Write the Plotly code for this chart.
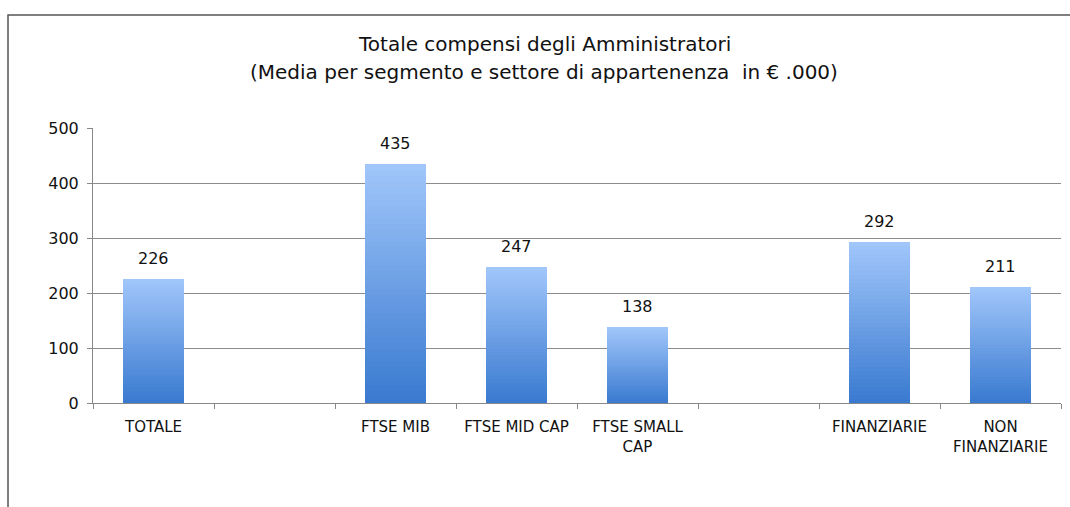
import plotly.graph_objects as go

categories = ["TOTALE", " ", "FTSE MIB", "FTSE MID CAP", "FTSE SMALL CAP", "  ", "FINANZIARIE", "NON FINANZIARIE"]
tick_labels = ["TOTALE", "", "FTSE MIB", "FTSE MID CAP", "FTSE SMALL<br>CAP", "", "FINANZIARIE", "NON<br>FINANZIARIE"]
values = [226, None, 435, 247, 138, None, 292, 211]

title_line1 = "Totale compensi degli Amministratori"
title_line2 = "(Media per segmento e settore di appartenenza  in € .000)"

FONT = "DejaVu Sans, Liberation Sans, Arial, sans-serif"

top_rgb = (160, 198, 250)
bot_rgb = (58, 122, 208)
N = 40

fig = go.Figure()
for i in range(N):
    t = i / (N - 1)  # 0 bottom, 1 top
    c = tuple(round(b + (tp - b) * t) for b, tp in zip(bot_rgb, top_rgb))
    seg = [v / N if v is not None else None for v in values]
    fig.add_trace(go.Bar(
        x=categories, y=seg,
        marker=dict(color="rgb(%d,%d,%d)" % c, line=dict(width=0)),
        hoverinfo="skip", showlegend=False,
    ))

for cat, v in zip(categories, values):
    if v is None:
        continue
    fig.add_annotation(x=cat, y=v, text=str(v), showarrow=False,
                       yanchor="bottom", yshift=9,
                       font=dict(family=FONT, size=16, color="#111"))

fig.add_annotation(xref="paper", yref="paper", x=0.466, y=1.305, text=title_line1,
                   showarrow=False, xanchor="center", yanchor="middle",
                   font=dict(family=FONT, size=20, color="#111"))
fig.add_annotation(xref="paper", yref="paper", x=0.466, y=1.204, text=title_line2,
                   showarrow=False, xanchor="center", yanchor="middle",
                   font=dict(family=FONT, size=20, color="#111"))

fig.add_shape(type="rect", xref="paper", yref="paper",
              x0=-0.0878, x1=1.03, y0=-0.45, y1=1.411,
              line=dict(color="#555", width=1.5), fillcolor="rgba(0,0,0,0)", layer="below")

fig.update_layout(
    width=1070, height=507,
    barmode="stack", bargap=0.5,
    paper_bgcolor="white", plot_bgcolor="white",
    margin=dict(l=93, r=9, t=128, b=104),
    font=dict(family=FONT, size=15, color="#111"),
    xaxis=dict(
        categoryorder="array", categoryarray=categories,
        tickmode="array", tickvals=categories, ticktext=tick_labels,
        tickson="boundaries", ticks="outside", ticklen=5, tickcolor="#888",
        showline=True, linecolor="#888", linewidth=1,
        showgrid=False, ticklabelstandoff=10,
        tickfont=dict(family=FONT, size=15, color="#111"),
    ),
    yaxis=dict(
        range=[0, 500], dtick=100, tick0=0,
        ticks="outside", ticklen=5, tickcolor="#888",
        showline=True, linecolor="#888", linewidth=1,
        showgrid=True, gridcolor="#8c8c8c", gridwidth=1,
        zeroline=False, ticklabelstandoff=5,
        tickfont=dict(family=FONT, size=16, color="#111"),
    ),
)

fig.write_html("out.html",
               config={"displayModeBar": False},
               post_script="document.body.style.margin='0';document.body.style.overflow='hidden';")
